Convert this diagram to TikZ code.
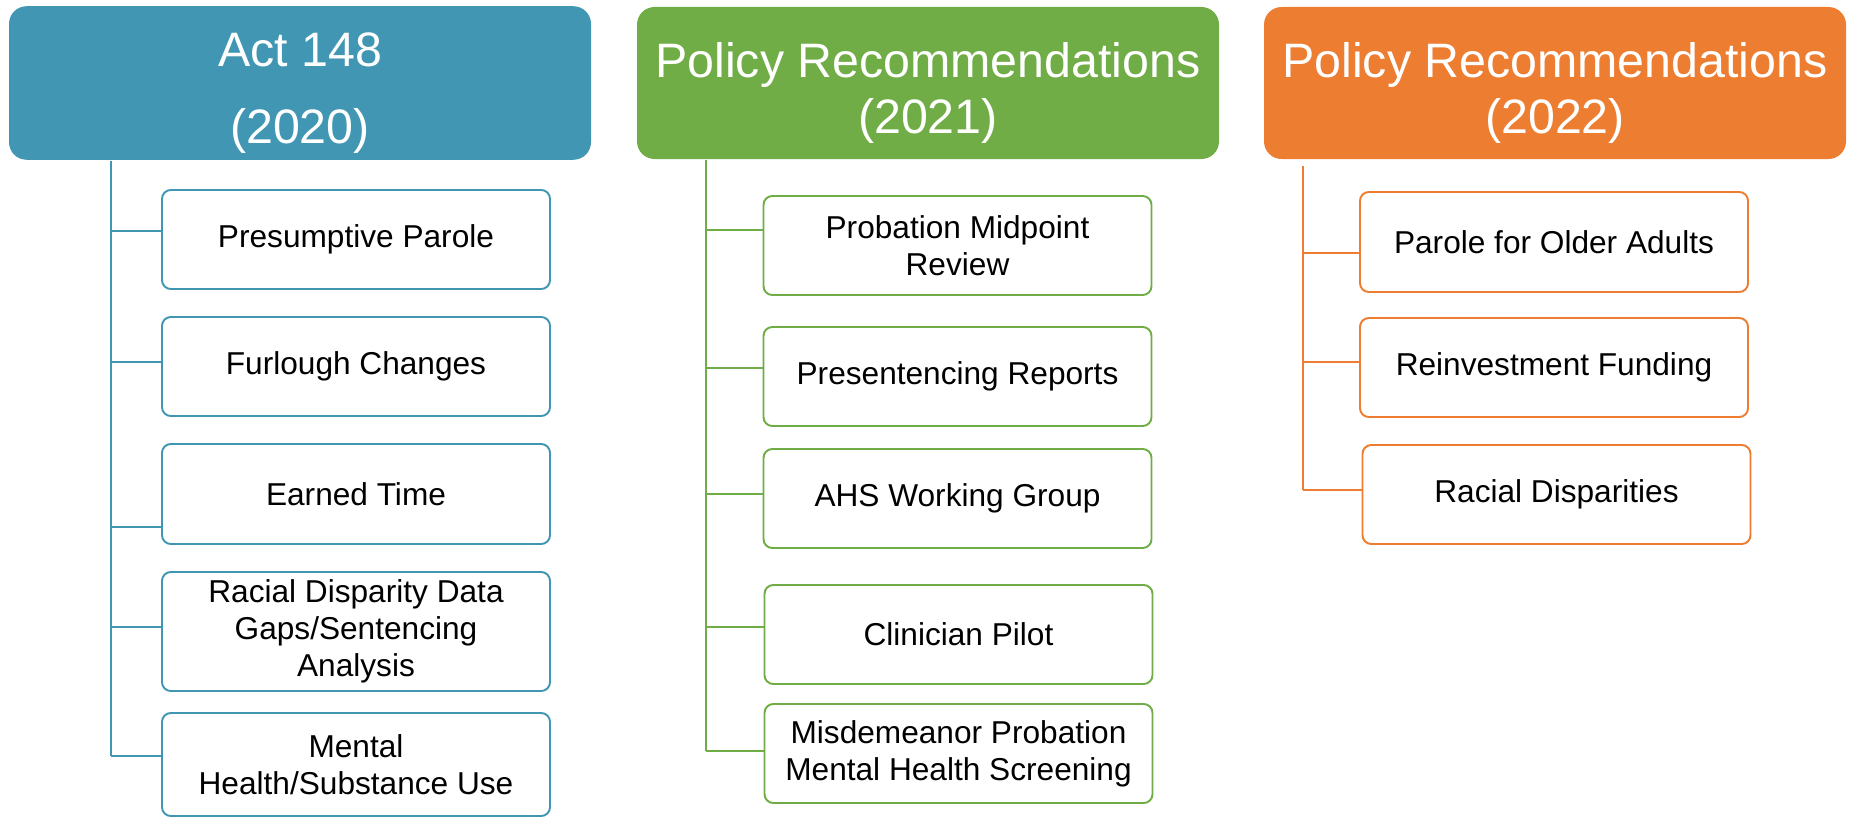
\documentclass[tikz,border=0pt]{standalone}
\usepackage{fontspec}
\setmainfont{Liberation Sans}
\usetikzlibrary{positioning, calc}
\definecolor{cteal}{HTML}{4197B3}
\definecolor{cgreen}{HTML}{70AD47}
\definecolor{corange}{HTML}{ED7D31}
\newcommand{\toppad}{\rule{0pt}{31pt}}
\tikzset{
  every picture/.style={line width=1.1pt},
  yearbox/.style={fill=#1, text=white, rounded corners=10pt, align=center, minimum width=11.64cm, minimum height=3.04cm, font=\fontsize{27.5}{32}\selectfont},
  leaf/.style={draw=#1, fill=white, rounded corners=5pt, align=center, minimum width=7.76cm, minimum height=1.98cm, inner sep=2pt, font=\fontsize{18}{21}\selectfont},
  link/.style={draw=#1, line width=1.1pt},
}

\begin{document}
\begin{tikzpicture}
  \useasboundingbox (0,0) rectangle (37.04,-16.34);
  % column 1: Act 148
  \node[yearbox=cteal] (h1) at (6.0,-1.66) {\toppad Act 148\\[12pt](2020)};
  \node[leaf=cteal] (a1) at (7.12,-4.79) {Presumptive Parole};
  \node[leaf=cteal] (a2) at (7.12,-7.33) {Furlough Changes};
  \node[leaf=cteal, minimum height=2.0cm] (a3) at (7.12,-9.88) {Earned Time};
  \node[leaf=cteal, minimum height=2.38cm] (a4) at (7.12,-12.63) {Racial Disparity Data\\Gaps/Sentencing\\Analysis};
  \node[leaf=cteal, minimum height=2.06cm] (a5) at (7.12,-15.29) {Mental\\Health/Substance Use};
  \coordinate (t1) at (2.22,-15.12);
  \draw[link=cteal] (h1.south -| t1) -- (t1);
  \foreach \b/\d in {a1/0.17, a2/0.09, a3/-0.66, a4/0.09, a5/0.17} {
    \draw[link=cteal] ([yshift=\d cm]\b.west -| t1) -- ([yshift=\d cm]\b.west);
  }
  % column 2: 2021 recommendations
  \node[yearbox=cgreen] (h2) at (18.56,-1.66) {\toppad Policy Recommendations\\(2021)};
  \node[leaf=cgreen] (b1) at (19.15,-4.91) {Probation Midpoint\\Review};
  \node[leaf=cgreen] (b2) at (19.15,-7.53) {Presentencing Reports};
  \node[leaf=cgreen] (b3) at (19.15,-9.97) {AHS Working Group};
  \node[leaf=cgreen] (b4) at (19.17,-12.69) {Clinician Pilot};
  \node[leaf=cgreen] (b5) at (19.17,-15.07) {Misdemeanor Probation\\Mental Health Screening};
  \coordinate (t2) at (14.12,-15.02);
  \draw[link=cgreen] (h2.south -| t2) -- (t2);
  \foreach \b/\d in {b1/0.31, b2/0.17, b3/0.09, b4/0.15, b5/0.05} {
    \draw[link=cgreen] ([yshift=\d cm]\b.west -| t2) -- ([yshift=\d cm]\b.west);
  }
  % column 3: 2022 recommendations
  \node[yearbox=corange] (h3) at (31.10,-1.66) {\toppad Policy Recommendations\\(2022)};
  \node[leaf=corange, minimum height=2.0cm] (c1) at (31.08,-4.84) {Parole for Older Adults};
  \node[leaf=corange] (c2) at (31.08,-7.35) {Reinvestment Funding};
  \node[leaf=corange] (c3) at (31.13,-9.89) {Racial Disparities};
  \coordinate (t3) at (26.06,-9.80);
  \draw[link=corange] ([yshift=-0.12cm]h3.south -| t3) -- (t3);
  \foreach \b/\d in {c1/-0.22, c2/0.11, c3/0.09} {
    \draw[link=corange] ([yshift=\d cm]\b.west -| t3) -- ([yshift=\d cm]\b.west);
  }
\end{tikzpicture}
\end{document}
